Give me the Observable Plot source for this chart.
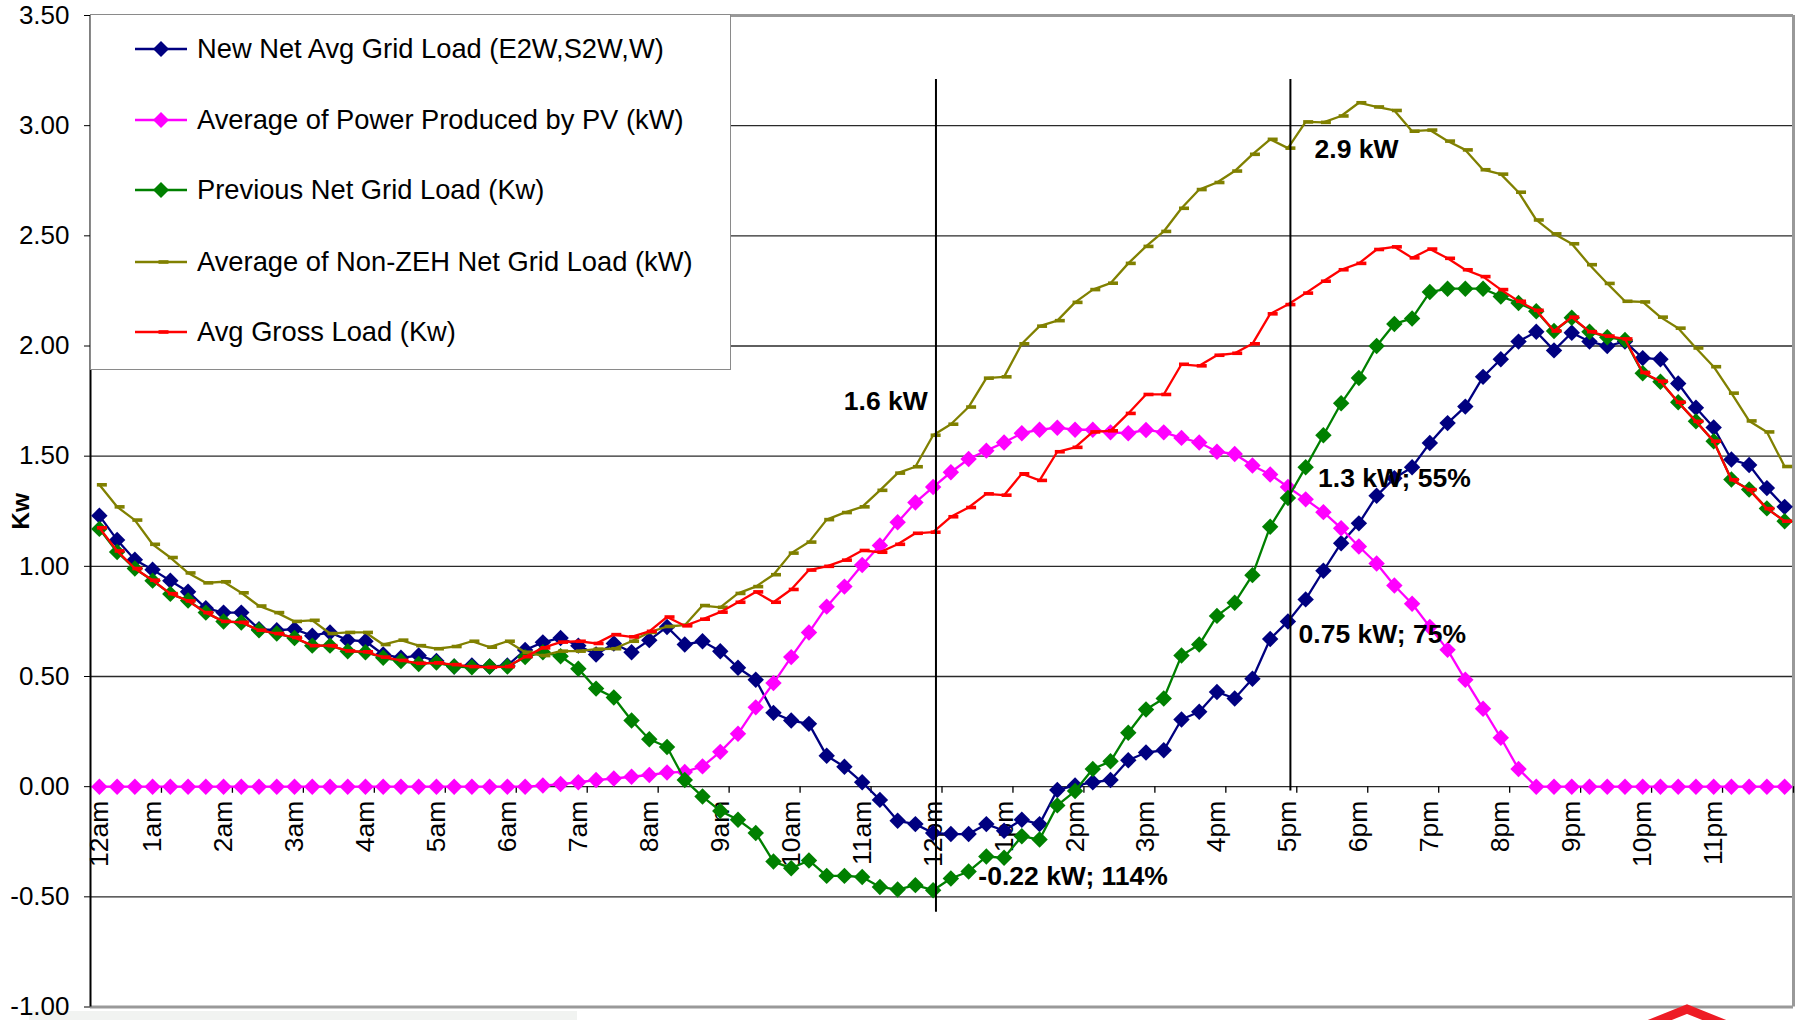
<!DOCTYPE html>
<html>
<head>
<meta charset="utf-8">
<script src="https://cdn.jsdelivr.net/npm/d3@7"></script>
<script src="https://cdn.jsdelivr.net/npm/@observablehq/plot@0.6"></script>
<style>
html, body { margin: 0; padding: 0; background: #fff; }
#wrap { position: relative; width: 1810px; height: 1020px; overflow: hidden; font-family: "Liberation Sans", Arial, sans-serif; }
#wrap > svg.chart { position: absolute; left: 0; top: 0; }
#legend { position: absolute; left: 90px; top: 14px; width: 641px; height: 356px; background: #fff; border: 1.5px solid #8a8a8a; box-sizing: border-box; }
.lg-row { position: absolute; left: 0; height: 40px; line-height: 40px; white-space: nowrap; font-size: 27.3px; color: #000; }
.lg-row svg { position: absolute; left: 44px; top: 0; }
.lg-row span { position: absolute; left: 106px; top: 0; }
#strip { position: absolute; left: 29px; top: 1011px; width: 548px; height: 9px; background: #f1f3f1; }
#deco { position: absolute; left: 1620px; top: 1000px; }
</style>
</head>
<body>
<div id="wrap"></div>
<script>
// ---------- data (15-minute intervals, 96 per series) ----------
const seriesNames = [
  "New Net Avg Grid Load (E2W,S2W,W)",
  "Average of Power Produced by PV (kW)",
  "Previous Net Grid Load (Kw)",
  "Average of Non-ZEH Net Grid Load (kW)",
  "Avg Gross Load (Kw)"
];

const newNet = [1.23,1.12,1.03,0.985,0.935,0.885,0.81,0.79,0.79,0.715,0.71,0.715,0.685,0.70,0.665,0.66,0.60,
  0.585,0.595,0.57,0.545,0.55,0.545,0.55,0.62,0.655,0.675,0.64,0.60,0.65,0.61,0.665,0.725,
  0.645,0.66,0.615,0.54,0.485,0.335,0.30,0.285,0.14,0.09,0.02,-0.06,-0.155,-0.17,-0.21,
  -0.215,-0.215,-0.17,-0.20,-0.15,-0.17,-0.015,0.005,0.02,0.03,0.12,0.155,0.165,0.305,0.34,0.43,0.40,
  0.49,0.67,0.75,0.85,0.98,1.105,1.195,1.32,1.40,1.45,1.56,1.65,1.725,1.86,1.94,
  2.02,2.065,1.98,2.06,2.02,2.0,2.02,1.945,1.94,1.83,1.72,1.63,1.485,1.46,1.355,1.27];

const pvPower = [0,0,0,0,0,0,0,0,0,0,0,0,0,0,0,0,0,0,0,0,0,0,0,0,0,
  0.005,0.012,0.02,0.03,0.037,0.045,0.053,0.064,
  0.067,0.092,0.158,0.24,0.36,0.47,0.588,0.70,0.817,0.908,1.006,1.095,1.2,1.29,1.36,
  1.427,1.487,1.525,1.562,1.604,1.62,1.629,1.62,1.62,1.608,1.604,1.619,1.608,1.583,1.562,1.52,1.51,
  1.458,1.417,1.36,1.304,1.246,1.173,1.09,1.013,0.913,0.83,0.725,0.621,0.485,0.354,0.222,
  0.08,0,0,0,0,0,0,0,0,0,0,0,0,0,0,0];

const prevNet = [1.17,1.065,0.99,0.935,0.875,0.845,0.79,0.75,0.745,0.71,0.695,0.675,0.64,0.64,0.615,0.61,0.585,
  0.57,0.557,0.563,0.545,0.542,0.545,0.545,0.588,0.61,0.592,0.535,0.445,0.405,0.30,0.215,0.18,
  0.03,-0.045,-0.11,-0.15,-0.21,-0.34,-0.37,-0.335,-0.405,-0.405,-0.41,-0.455,-0.467,-0.447,-0.47,
  -0.417,-0.385,-0.317,-0.323,-0.225,-0.24,-0.085,-0.02,0.08,0.115,0.245,0.35,0.40,0.595,0.645,0.775,0.835,
  0.96,1.18,1.31,1.45,1.595,1.74,1.855,2.0,2.10,2.125,2.245,2.26,2.26,2.26,2.225,
  2.195,2.158,2.068,2.128,2.065,2.04,2.027,1.876,1.838,1.745,1.658,1.568,1.394,1.349,1.263,1.205];

const nonZeh = [1.37,1.27,1.21,1.10,1.04,0.97,0.925,0.93,0.88,0.82,0.79,0.75,0.755,0.695,0.70,0.70,0.645,
  0.665,0.64,0.626,0.636,0.66,0.633,0.66,0.61,0.595,0.615,0.615,0.624,0.626,0.66,0.70,0.727,
  0.733,0.822,0.814,0.877,0.908,0.962,1.06,1.11,1.212,1.244,1.27,1.345,1.423,1.452,1.595,
  1.645,1.723,1.854,1.86,2.01,2.09,2.115,2.198,2.256,2.285,2.375,2.452,2.52,2.625,2.71,2.742,
  2.794,2.87,2.938,2.898,3.017,3.015,3.044,3.104,3.085,3.069,2.975,2.98,2.93,2.89,2.80,2.78,
  2.698,2.572,2.509,2.464,2.369,2.284,2.203,2.2,2.131,2.081,1.991,1.906,1.786,1.66,1.61,1.453];

const grossLoad = [1.175,1.07,0.99,0.937,0.876,0.843,0.79,0.75,0.746,0.71,0.695,0.677,0.64,0.64,0.616,0.612,0.588,
  0.573,0.56,0.562,0.554,0.545,0.542,0.545,0.59,0.63,0.656,0.66,0.65,0.69,0.68,0.705,0.77,
  0.73,0.76,0.792,0.837,0.884,0.837,0.895,0.983,1.0,1.028,1.072,1.064,1.1,1.15,1.155,
  1.225,1.267,1.329,1.323,1.42,1.39,1.52,1.54,1.61,1.615,1.694,1.78,1.78,1.917,1.91,1.958,1.967,
  2.01,2.146,2.188,2.24,2.294,2.346,2.375,2.438,2.45,2.40,2.44,2.398,2.346,2.315,2.256,
  2.203,2.162,2.068,2.131,2.065,2.045,2.032,1.88,1.84,1.745,1.658,1.568,1.393,1.348,1.262,1.205];

const hourLabels = ["12am","1am","2am","3am","4am","5am","6am","7am","8am","9am","10am","11am",
  "12pm","1pm","2pm","3pm","4pm","5pm","6pm","7pm","8pm","9pm","10pm","11pm"];
const hourLabelIndex = [0,3,7,11,15,19,23,27,31,35,39,43,47,51,55,59,63,67,71,75,79,83,87,91];
const hourTickIndex = [3.5,7.5,11.5,15.5,19.5,23.5,27.5,31.5,35.5,39.5,43.5,47.5,51.5,55.5,59.5,63.5,67.5,71.5,75.5,79.5,83.5,87.5,91.5,95.5];
const yTicks = [-1,-0.5,0,0.5,1,1.5,2,2.5,3,3.5];
const yTitle = "Kw";
const yTitleAt = 1.25;

const annotTexts = ["1.6 kW","2.9 kW","1.3 kW; 55%","0.75 kW; 75%","-0.22 kW; 114%"];
const annotX = [46.7, 68.5, 68.7, 67.6, 49.55];
const annotY = [1.75, 2.89, 1.40, 0.69, -0.41];
const annotRightAligned = [true, false, false, false, false];

const markerLineX = [47.16, 67.14];
const markerLineTop = [3.21, 3.21];
const markerLineBottom = [-0.57, -0.02];

// ---------- styling ----------
const colors = ["#000080","#ff00ff","#008000","#808000","#ff0000"];
const seriesValues = [newNet, pvPower, prevNet, nonZeh, grossLoad];
const dashSymbol = { draw(ctx) { ctx.moveTo(-2.5, -1.8); ctx.lineTo(7.5, -1.8); ctx.lineTo(7.5, 1.8); ctx.lineTo(-2.5, 1.8); ctx.closePath(); } };
const symbols = ["diamond2","diamond2","diamond2",dashSymbol,dashSymbol];

const seriesMarks = seriesValues.flatMap((vals, k) => [
  Plot.line(vals, {x: (d, i) => i, y: d => d, stroke: colors[k], strokeWidth: 2.3}),
  Plot.dot(vals, {x: (d, i) => i, y: d => d, symbol: symbols[k], r: 7.4, fill: colors[k], stroke: "none"})
]);

const interiorTicks = yTicks.filter(v => v > -1 && v < 3.5);
const annots = annotTexts.map((t, i) => ({t, x: annotX[i], y: annotY[i], right: annotRightAligned[i]}));
const mlines = markerLineX.map((x, i) => ({x, y1: markerLineBottom[i], y2: markerLineTop[i]}));

const chart = Plot.plot({
  width: 1810,
  height: 1020,
  marginLeft: 90,
  marginRight: 17,
  marginTop: 15,
  marginBottom: 13.5,
  style: {fontFamily: '"Liberation Sans", Arial, sans-serif', fontSize: "26px", color: "#000", background: "transparent", overflow: "visible"},
  x: {domain: [-0.5, 95.5], axis: null},
  y: {domain: [-1, 3.5], ticks: yTicks, tickFormat: d => d.toFixed(2), tickSize: 6, tickPadding: 15, label: null},
  marks: [
    Plot.ruleY(interiorTicks, {stroke: "#2a2a2a", strokeWidth: 1.3}),
    Plot.ruleY([3.5, -1], {stroke: "#999", strokeWidth: 3}),
    Plot.ruleX([95.5], {stroke: "#999", strokeWidth: 3}),
    Plot.ruleX([-0.5], {stroke: "#000", strokeWidth: 2}),
    Plot.ruleX(hourTickIndex, {x: d => d, y1: () => 0, y2: () => -0.03, stroke: "#000", strokeWidth: 1.3}),
    Plot.text(hourLabels, {
      x: (d, i) => hourLabelIndex[i], y: () => 0, text: d => d,
      rotate: -90, textAnchor: "end", lineAnchor: "middle", dy: 14, fontSize: 26.5, fill: "#000"
    }),
    ...seriesMarks,
    Plot.ruleX(mlines, {x: "x", y1: "y1", y2: "y2", stroke: "#000", strokeWidth: 2}),
    Plot.text(annots.filter(d => d.right), {x: "x", y: "y", text: "t", textAnchor: "end", lineAnchor: "middle", fontWeight: "bold", fontSize: 26.5, fill: "#000"}),
    Plot.text(annots.filter(d => !d.right), {x: "x", y: "y", text: "t", textAnchor: "start", lineAnchor: "middle", fontWeight: "bold", fontSize: 26.5, fill: "#000"}),
    Plot.text([yTitle], {x: () => -0.5, y: () => yTitleAt, dx: -69, rotate: -90, text: d => d, fontWeight: "bold", fontSize: 24.5, fill: "#000"})
  ]
});
chart.classList.add("chart");
const wrap = document.getElementById("wrap");

// light strip of the source slide sits behind the chart
const strip = document.createElement("div");
strip.id = "strip";
wrap.appendChild(strip);
wrap.appendChild(chart);

// ---------- legend (overlay inside plot area) ----------
const legend = document.createElement("div");
legend.id = "legend";
const rowCenters = [35.6, 106, 176.5, 248, 318.5];
seriesNames.forEach((name, k) => {
  const row = document.createElement("div");
  row.className = "lg-row";
  row.style.top = (rowCenters[k] - 20 - 1.5) + "px";
  const s = d3.create("svg").attr("width", 54).attr("height", 40);
  s.append("line").attr("x1", 0).attr("x2", 52).attr("y1", 20).attr("y2", 20)
    .attr("stroke", colors[k]).attr("stroke-width", 2.4);
  if (k < 3) {
    s.append("path").attr("d", "M26,12L34,20L26,28L18,20Z").attr("fill", colors[k]);
  } else {
    s.append("rect").attr("x", 23.5).attr("y", 18.2).attr("width", 10).attr("height", 3.6).attr("fill", colors[k]);
  }
  row.appendChild(s.node());
  const t = document.createElement("span");
  t.textContent = name;
  row.appendChild(t);
  legend.appendChild(row);
});
wrap.appendChild(legend);

// ---------- page decoration from the source slide ----------
const deco = d3.create("svg").attr("id", "deco").attr("width", 130).attr("height", 20);
deco.append("polyline").attr("points", "20,28 67,9 114,28").attr("fill", "none")
  .attr("stroke", "#ee1c25").attr("stroke-width", 9);
wrap.appendChild(deco.node());
</script>
</body>
</html>
